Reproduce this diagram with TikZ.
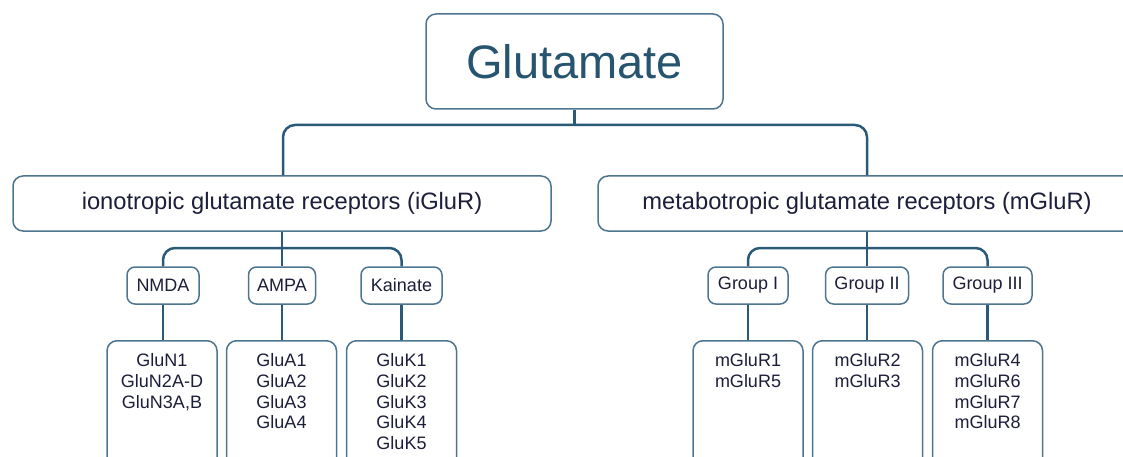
\documentclass[tikz,border=0pt]{standalone}
\usepackage{fontspec}
\setmainfont{Liberation Sans}
\definecolor{linkcol}{HTML}{2B5A78}
\definecolor{framecol}{HTML}{4E7590}
\definecolor{inkcol}{HTML}{1C1E3A}
\definecolor{titlecol}{HTML}{27556F}
\newcommand{\listtext}[1]{\parbox[c][140pt][t]{104pt}{\centering #1}}
\tikzset{
  box/.style={draw=framecol, line width=1.5pt, fill=white, rounded corners=10pt,
    text=inkcol, inner sep=0pt},
  titlebox/.style={box, minimum width=297pt, minimum height=95pt,
    font=\fontsize{47}{50}\selectfont, text=titlecol},
  classbox/.style={box, minimum width=538pt, minimum height=55pt,
    font=\fontsize{23.7}{26}\selectfont},
  typebox/.style={box, rounded corners=8pt, minimum height=37pt,
    font=\fontsize{18}{21}\selectfont},
  listbox/.style={box, anchor=north, minimum width=110pt, inner xsep=3pt,
    inner ysep=13pt, font=\fontsize{18}{20.7}\selectfont},
  link/.style={draw=linkcol, line width=2.5pt, rounded corners=12pt},
}
\begin{document}
\begin{tikzpicture}[x=1pt, y=-1pt]
\useasboundingbox (0,0) rectangle (1123,457);
\clip (0,0) rectangle (1123,457);

% junction points of the tree
\coordinate (hub) at (574.5,125);
\coordinate (ihub) at (282,248);
\coordinate (mhub) at (867,248);

% boxes
\node[titlebox] (glu) at (574.5,61.5) {Glutamate};
\node[classbox] (iono) at (282,203.5) {ionotropic glutamate receptors (iGluR)};
\node[classbox] (meta) at (867,203.5) {metabotropic glutamate receptors (mGluR)};

\node[typebox, minimum width=72pt] (nmda) at (163,285.5) {NMDA};
\node[typebox, minimum width=67pt] (ampa) at (282,285.5) {AMPA};
\node[typebox, minimum width=81pt] (kain) at (401.5,285.5) {Kainate};
\node[typebox, minimum width=80pt] (g1) at (748,285.5) {Group I};
\node[typebox, minimum width=83pt] (g2) at (867,285.5) {Group II};
\node[typebox, minimum width=89pt] (g3) at (987.5,285.5) {Group III};

\node[listbox] (glun) at (162,340) {\listtext{GluN1\\GluN2A-D\\GluN3A,B}};
\node[listbox] (glua) at (281.5,340) {\listtext{GluA1\\GluA2\\GluA3\\GluA4}};
\node[listbox] (gluk) at (401.5,340) {\listtext{GluK1\\GluK2\\GluK3\\GluK4\\GluK5}};
\node[listbox] (m15) at (748,340) {\listtext{mGluR1\\mGluR5}};
\node[listbox] (m23) at (867.5,340) {\listtext{mGluR2\\mGluR3}};
\node[listbox] (m48) at (987.5,340) {\listtext{mGluR4\\mGluR6\\mGluR7\\mGluR8}};

% tree links
\draw[link] (glu.south) -- (hub);
\draw[link] (iono.north -| 283,0) |- (hub) -| (meta.north);
\draw[link] (iono.south) -- (ampa.north);
\draw[link] (nmda.north) |- (ihub) -| (kain.north);
\draw[link] (meta.south) -- (g2.north);
\draw[link] (g1.north) |- (mhub) -| (g3.north);
\draw[link] (nmda.south) -- (nmda.south |- glun.north);
\draw[link] (ampa.south) -- (ampa.south |- glua.north);
\draw[link] (kain.south) -- (kain.south |- gluk.north);
\draw[link] (g1.south) -- (g1.south |- m15.north);
\draw[link] (g2.south) -- (g2.south |- m23.north);
\draw[link] (g3.south) -- (g3.south |- m48.north);
\end{tikzpicture}
\end{document}
